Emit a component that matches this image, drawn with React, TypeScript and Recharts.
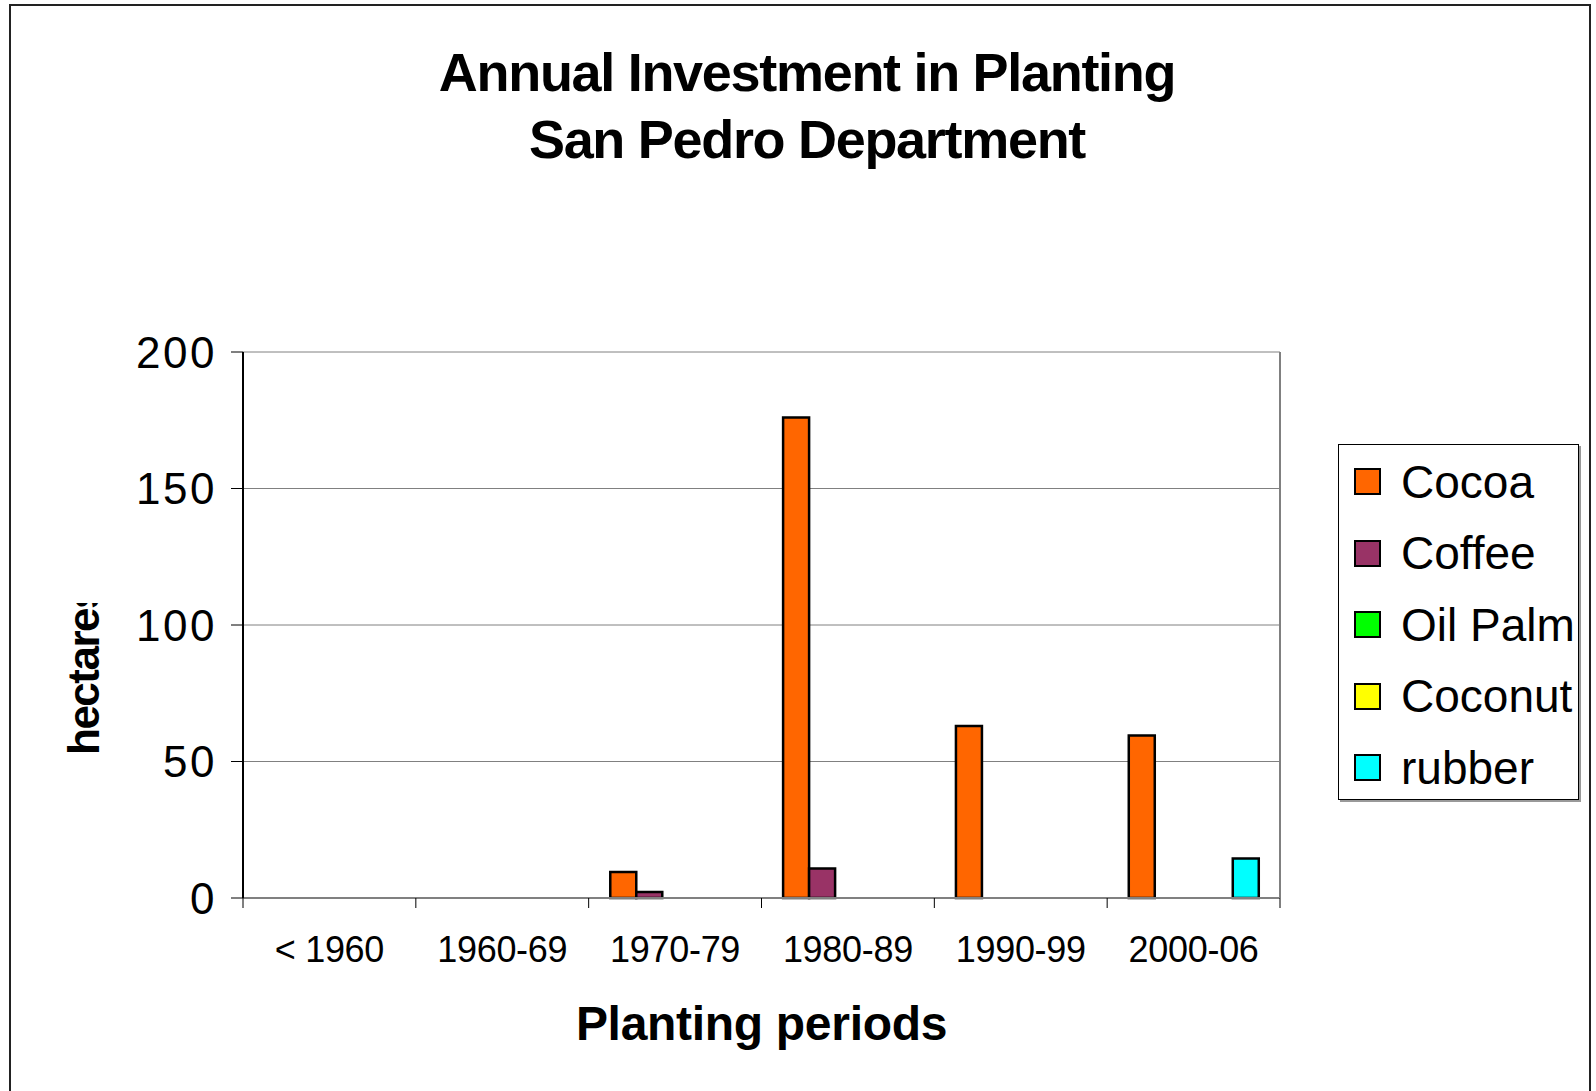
import { BarChart, Bar, XAxis, YAxis, CartesianGrid, Legend } from "recharts";

const periods = ["< 1960", "1960-69", "1970-79", "1980-89", "1990-99", "2000-06"];
const cocoa = [0, 0, 9.5, 176, 63, 59.5];
const coffee = [0, 0, 2.2, 10.8, 0, 0];
const oilPalm = [0, 0, 0, 0, 0, 0];
const coconut = [0, 0, 0, 0, 0, 0];
const rubber = [0, 0, 0, 0, 0, 14.5];
const yTicks = [0, 50, 100, 150, 200];

const series = [
  { key: "Cocoa", values: cocoa, color: "#FF6600" },
  { key: "Coffee", values: coffee, color: "#993366" },
  { key: "Oil Palm", values: oilPalm, color: "#00FF00" },
  { key: "Coconut", values: coconut, color: "#FFFF00" },
  { key: "rubber", values: rubber, color: "#00FFFF" },
];

const data = periods.map((period, i) => {
  const row: Record<string, string | number> = { period };
  series.forEach((s) => (row[s.key] = s.values[i]));
  return row;
});

const FONT = '"Liberation Sans", Arial, sans-serif';

// period label plus tick marks on the band edges, like Excel
function PeriodTick(props: any) {
  const { x, y, payload, index } = props;
  const half = payload && payload.offset > 0 ? payload.offset : 86.4;
  return (
    <g>
      <line x1={x - half} x2={x - half} y1={y} y2={y + 10} stroke="#000" />
      {index === periods.length - 1 && (
        <line x1={x + half} x2={x + half} y1={y} y2={y + 10} stroke="#000" />
      )}
      <text x={x} y={y + 64} textAnchor="middle" fontSize={36} letterSpacing={-0.3} fill="#000">
        {payload.value}
      </text>
    </g>
  );
}

function YTitle() {
  return (
    <g>
      <defs>
        <clipPath id="ytitle-clip">
          <rect x={0} y={603} width={200} height={300} />
        </clipPath>
      </defs>
      <g clipPath="url(#ytitle-clip)">
        <text
          transform="translate(99,755) rotate(-90)"
          fontSize={44}
          fontWeight="bold"
          letterSpacing={-1.5}
          fill="#000"
        >
          hectares
        </text>
      </g>
    </g>
  );
}

function LegendBox(props: any) {
  const order = series.map((s) => s.key);
  const items = [...(props.payload || [])].sort(
    (a: any, b: any) => order.indexOf(a.value) - order.indexOf(b.value)
  );
  return (
    <div
      style={{
        width: 241,
        height: 356,
        boxSizing: "border-box",
        border: "1px solid #000",
        boxShadow: "2px 2px 0 #999",
        background: "#fff",
        paddingTop: 1,
      }}
    >
      {items.map((it: any) => (
        <div key={it.value} style={{ display: "flex", alignItems: "center", height: 71.5 }}>
          <span
            style={{
              display: "inline-block",
              width: 27,
              height: 27,
              boxSizing: "border-box",
              border: "2.5px solid #000",
              background: it.color,
              marginLeft: 15,
              marginRight: 20,
            }}
          />
          <span style={{ fontSize: 46, color: "#000", lineHeight: 1 }}>{it.value}</span>
        </div>
      ))}
    </div>
  );
}

export default function App() {
  return (
    <div
      style={{
        position: "absolute",
        left: 0,
        top: 0,
        width: 1596,
        height: 1091,
        overflow: "hidden",
        background: "#fff",
        fontFamily: FONT,
      }}
    >
      <div
        style={{
          position: "absolute",
          left: 9,
          top: 4,
          width: 1582,
          height: 1200,
          boxSizing: "border-box",
          border: "2px solid #222",
        }}
      />
      <div
        style={{
          position: "absolute",
          left: 0,
          top: 45,
          width: 1614,
          textAlign: "center",
          fontWeight: "bold",
          fontSize: 54,
          letterSpacing: -1.3,
          color: "#000",
        }}
      >
        <div style={{ lineHeight: "54px" }}>Annual Investment in Planting</div>
        <div style={{ lineHeight: "68px", marginTop: 6 }}>San Pedro Department</div>
      </div>
      <div style={{ position: "absolute", left: 0, top: 0 }}>
        <BarChart
          width={1596}
          height={1091}
          data={data}
          margin={{ top: 352, right: 75, bottom: 51, left: 0 }}
          barCategoryGap="12.5%"
          barGap={0}
        >
          <CartesianGrid horizontal vertical={false} stroke="#808080" />
          {/* grey right edge of the plot area */}
          <CartesianGrid
            horizontal={false}
            stroke="#808080"
            strokeWidth={2}
            verticalCoordinatesGenerator={({ offset }: any) => [offset.left + offset.width]}
          />
          <XAxis
            dataKey="period"
            height={142}
            interval={0}
            tickLine={false}
            tickSize={0}
            tickMargin={0}
            axisLine={{ stroke: "#808080", strokeWidth: 2 }}
            tick={(p: any) => <PeriodTick {...p} />}
            label={{
              value: "Planting periods",
              position: "insideBottom",
              offset: 0,
              style: { fontSize: 48, fontWeight: "bold", fill: "#000", letterSpacing: -0.3 },
            }}
          />
          <YAxis
            width={243}
            domain={[0, 200]}
            ticks={yTicks}
            interval={0}
            tickSize={12}
            tickMargin={14}
            axisLine={{ stroke: "#000", strokeWidth: 2 }}
            tickLine={{ stroke: "#000" }}
            tick={{ fontSize: 44, fill: "#000", letterSpacing: 2.5 }}
            label={{ content: () => <YTitle /> }}
          />
          <Legend
            layout="vertical"
            align="right"
            verticalAlign="middle"
            content={(p: any) => <LegendBox {...p} />}
            wrapperStyle={{ position: "absolute", left: 1338, top: 444, width: 241, height: 356 }}
          />
          {series.map((s) => (
            <Bar
              key={s.key}
              dataKey={s.key}
              fill={s.color}
              stroke="#000"
              strokeWidth={2.5}
              isAnimationActive={false}
            />
          ))}
        </BarChart>
      </div>
    </div>
  );
}
